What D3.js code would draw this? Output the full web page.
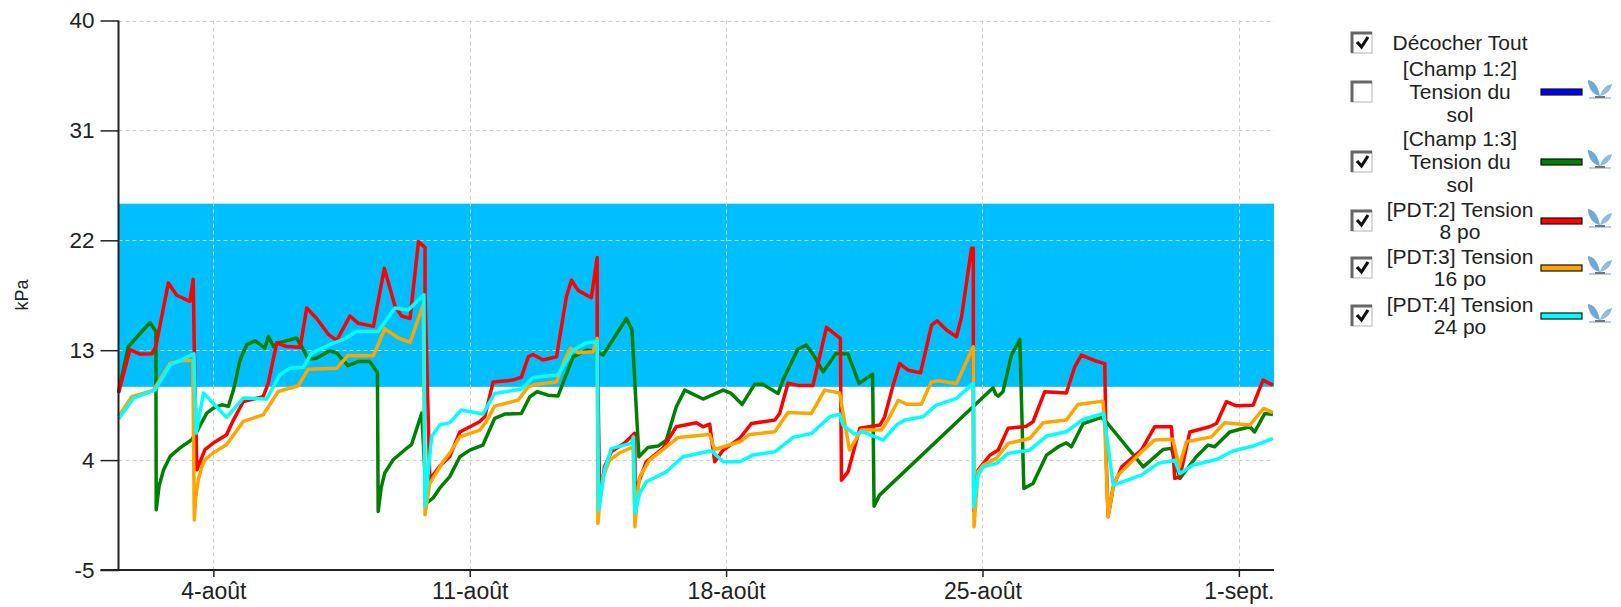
<!DOCTYPE html>
<html><head><meta charset="utf-8">
<script src="https://cdn.jsdelivr.net/npm/d3@7/dist/d3.min.js"></script>
<style>
html,body{margin:0;padding:0;background:#fff}
svg{display:block}
text{font-family:"Liberation Sans",Arial,sans-serif;fill:#222}
</style></head><body><svg id="c" width="1621" height="607"></svg>
<script>
// x values are days counted from 1 August (32 = 1 September)
const xTickDays=[4,11,18,25,32];
const xTickLabels=["4-août","11-août","18-août","25-août","1-sept."];
const yTicks=[-5,4,13,22,31,40];
const band=[10,25];
const xDomain=[1.41,32.96];
const yDomain=[-5,40];
const yLabel="kPa";

const greenDays=[1.41,1.68,2.27,2.43,2.44,2.52,2.64,2.82,3.09,3.41,3.55,3.82,4,4.23,4.41,4.55,4.73,4.91,5.14,5.41,5.5,5.64,5.77,6.27,6.41,6.59,6.82,7.18,7.37,7.68,7.96,8.27,8.48,8.5,8.58,8.68,8.91,9.23,9.41,9.69,9.82,10,10.18,10.45,10.73,11,11.36,11.68,11.96,12.41,12.64,12.84,13.14,13.41,13.82,14.2,14.46,14.64,15.28,15.43,15.62,15.87,16.14,16.37,16.64,16.87,17.37,17.92,18.14,18.44,18.78,19,19.42,19.55,19.96,20.19,20.37,20.65,21,21.33,21.63,22,22.04,22.19,25.29,25.36,25.43,25.56,25.79,26.02,26.13,26.38,26.75,27.07,27.29,27.43,27.75,28.25,28.38,29.39,29.93,30.16,30.39,30.84,31.16,31.34,31.75,32.3,32.43,32.71,32.93];
const greenValues=[9.6,13.3,15.27,14.54,-0.07,1.9,3.2,4.3,5,5.67,6.35,7.85,8.26,8.53,8.4,9.76,12.2,13.45,13.77,13.17,14.13,13.3,13.6,14,13.3,12.27,12.35,12.95,12.76,11.73,12.08,12.08,11.18,-0.2,1.7,2.94,4.03,4.85,5.26,7.85,0.48,0.9,1.7,2.63,4.27,4.82,5.23,7.41,7.77,7.82,9.19,9.6,9.32,9.24,12.46,13,12.9,12.6,15.6,14.65,4.27,5.04,5.15,5.64,8.37,9.73,9,9.73,9.46,8.56,10.22,10.22,9.46,10.55,13.1,13.42,12.68,11.23,12.74,12.68,10.28,11.04,0.23,1.13,9.92,9.4,9.24,9.6,12.6,13.88,1.68,2.09,4.41,5.09,5.42,5.09,7,7.5,7.14,3.45,4.87,4.96,2.5,4.27,5.23,5.09,6.3,6.73,6.3,7.82,7.74];

const redDays=[1.41,1.72,2,2.32,2.43,2.77,3,3.36,3.45,3.48,3.55,3.77,4,4.36,4.55,4.82,5.36,5.5,5.73,6,6.37,6.55,6.82,7.14,7.37,7.73,7.96,8.37,8.67,8.96,9.14,9.37,9.6,9.78,9.78,9.91,10.18,10.45,10.73,11.27,11.41,11.64,12.18,12.41,12.6,12.73,13,13.37,13.64,13.78,13.96,14.32,14.48,14.48,14.55,14.68,14.87,15.23,15.5,15.51,15.52,15.6,15.82,16.27,16.64,17.19,17.37,17.55,17.69,17.92,18.37,18.69,19.33,19.46,19.69,20,20.37,20.74,21.12,21.15,21.33,21.65,22.2,22.33,22.56,22.74,22.97,23.31,23.61,23.76,24.02,24.29,24.43,24.7,24.75,24.75,24.76,24.88,25.2,25.43,25.7,26.2,26.38,26.7,27.29,27.52,27.7,28.07,28.34,28.38,28.43,28.57,28.8,29.34,29.7,30.16,30.25,30.39,30.66,31.2,31.39,31.66,31.93,32.39,32.66,32.93];
const redValues=[9.5,13.04,12.68,12.7,13.3,18.5,17.5,17,18.8,13,3.2,4.85,5.4,6.07,7.3,8.8,9.2,10.3,13.6,13.3,13.25,16.45,15.6,14.3,13.8,15.8,15.2,14.95,19.7,16.6,15.8,15.6,21.9,21.4,17.7,2.4,3.5,4.27,6.3,7.14,7.55,10.4,10.55,10.8,12.46,12.65,12.2,12.46,17.4,18.74,17.9,17.3,20.6,14.4,0.72,3.45,4.7,5.4,6.2,4.5,-0.64,2.1,3.86,4.96,6.73,7.06,6.73,6.95,3.86,4.82,5.77,7,7.28,7.8,10.3,10.1,10.1,14.87,13.96,2.36,3.04,6.6,6.87,7.55,10.14,11.9,11.36,11.15,15.06,15.41,14.65,14.1,15.74,21.34,21.34,13.28,-0.1,3.18,4.4,4.82,6.6,6.78,7.14,9.6,9.5,11.64,12.6,12.14,11.9,4,-0.64,1.8,3.45,4.82,6.73,6.73,2.5,2.63,6.3,6.73,7,8.78,8.45,8.5,10.55,10.14];

const orangeDays=[1.41,1.77,2.36,2.82,3.18,3.44,3.48,3.52,3.59,3.68,3.77,4,4.36,4.82,5.36,5.77,6.32,6.59,7.37,7.68,8.37,8.68,9.05,9.37,9.73,9.78,9.91,10.28,10.45,10.73,11.27,11.45,11.68,12.32,12.6,12.82,13.37,13.59,13.75,13.96,14.37,14.48,14.5,14.56,14.64,14.82,15.1,15.46,15.51,15.57,15.64,15.91,16.37,16.69,17.55,17.69,18.37,18.64,19.33,19.69,20.33,20.69,21.1,21.37,21.69,22.24,22.42,22.7,22.93,23.33,23.6,23.79,24.29,24.75,24.77,24.88,25.02,25.38,25.7,26.29,26.66,27.29,27.61,28.29,28.34,28.43,28.57,28.7,29.3,29.7,30.2,30.37,30.57,31.25,31.61,32.3,32.68,32.93];
const orangeValues=[7.58,9.2,9.7,11.94,12.16,12.16,-0.9,1,2.4,3.4,4.03,4.6,5.26,7.17,7.7,9.62,10.09,11.45,11.53,12.57,12.55,14.76,14,13.64,16.72,-0.48,2.1,3.9,4.55,5.9,6.46,7.14,8.42,8.91,10,10.22,10.4,12.19,13.15,12.8,12.87,13.96,-1.19,0.9,2.63,4,4.6,5.09,-1.46,1,2.63,4,5.09,5.86,6.1,4.87,5.5,6.1,6.32,7.9,7.82,9.73,9.5,4.82,6.46,6.46,7.28,8.9,8.58,8.58,10.4,10.5,10.28,13.28,-1.46,3.04,3.6,4.14,5.37,5.77,7.06,7.28,8.56,8.83,6.73,-0.64,1.8,2.77,4.55,5.64,5.7,3.45,5.5,5.9,7.06,6.87,8.23,7.88];

const cyanDays=[1.41,1.82,2.41,2.82,3.23,3.47,3.53,3.73,4.36,4.82,5.45,5.82,6.09,6.46,6.68,7.28,7.55,7.91,8.5,8.96,9.32,9.75,9.78,9.96,10.19,10.45,10.77,11.36,11.68,12.41,12.73,13.41,13.82,14.18,14.48,14.52,14.68,14.87,15.41,15.47,15.51,15.64,15.82,16.37,16.82,17.6,17.92,18.37,18.73,19.33,19.83,20.33,20.83,21.1,21.19,21.51,21.74,22.29,22.65,22.88,23.38,23.74,24.29,24.75,24.76,24.88,25.02,25.38,25.7,26.29,26.75,27.29,27.75,28.31,28.57,29.34,29.8,30.25,30.39,30.75,31.39,31.84,32.39,32.93];
const cyanValues=[7.36,9.08,9.76,11.8,12.35,12.7,6.2,9.5,7.5,9.08,9,11,11.53,11.6,12.76,13.58,13.86,14.54,14.54,16.45,16.3,17.54,0.26,5.94,6.9,7.05,8.1,7.77,9.46,9.8,10.77,10.96,13,13.6,13.7,-0.1,3.18,4.96,5.37,5.9,-0.37,1.27,2.23,3.04,4.27,4.76,3.86,3.86,4.41,4.68,5.86,6.18,7.55,7.77,6.87,6.13,6.32,5.64,6.87,7.28,7.55,8.5,9.05,10.28,0.18,2.77,3.45,3.73,4.55,4.82,5.97,6.32,7.33,7.82,1.95,2.77,3.73,4,2.9,3.6,4.05,4.74,5.15,5.77];

const seriesColors={green:"#008000",red:"#ff0000",orange:"#ffa500",cyan:"#00ffff"};
const legendLabels=[["Décocher Tout"],["[Champ 1:2]","Tension du","sol"],["[Champ 1:3]","Tension du","sol"],["[PDT:2] Tension","8 po"],["[PDT:3] Tension","16 po"],["[PDT:4] Tension","24 po"]];
const legendChecked=[true,false,true,true,true,true];
const legendColors=[null,"#0000ff","#008000","#ff0000","#ffa500","#00ffff"];
const legendY=[43,92,162,221,268,316];

const svg=d3.select("#c");
const plot={l:118.5,r:1274,t:20.5,b:570};
const x=d3.scaleLinear().domain(xDomain).range([plot.l,plot.r]);
const y=d3.scaleLinear().domain(yDomain).range([plot.b,plot.t]);

svg.append("rect").attr("x",plot.l).attr("width",plot.r-plot.l)
  .attr("y",y(band[1])).attr("height",y(band[0])-y(band[1])).attr("fill","#00bfff");

// grid
const grid=svg.append("g").attr("fill","none").attr("stroke","#cfcfcf").attr("stroke-width",1).attr("stroke-dasharray","4 3");
grid.selectAll("line.h").data(yTicks.slice(1)).join("line").attr("class","h")
  .attr("x1",plot.l).attr("x2",plot.r).attr("y1",d=>Math.round(y(d))+.5).attr("y2",d=>Math.round(y(d))+.5);
grid.selectAll("line.v").data(xTickDays).join("line").attr("class","v")
  .attr("x1",d=>Math.round(x(d))+.5).attr("x2",d=>Math.round(x(d))+.5).attr("y1",plot.t).attr("y2",plot.b);

// series
const line=d3.line().x(d=>x(d[0])).y(d=>y(d[1]));
[[greenDays,greenValues,seriesColors.green],[redDays,redValues,seriesColors.red],[orangeDays,orangeValues,seriesColors.orange],[cyanDays,cyanValues,seriesColors.cyan]]
 .forEach(([dd,vv,c])=>{
  svg.append("path").attr("d",line(d3.zip(dd,vv))).attr("fill","none").attr("stroke",c)
   .attr("stroke-width",3.5).attr("stroke-linejoin","round").attr("stroke-linecap","butt");
 });

// axes
const yAxis=d3.axisLeft(y).tickValues(yTicks).tickSize(18).tickPadding(6).tickFormat(d=>String(d));
const gy=svg.append("g").attr("transform",`translate(${plot.l},0)`).call(yAxis);
const xAxis=d3.axisBottom(x).tickValues(xTickDays).tickSize(7).tickPadding(6).tickFormat((d,i)=>xTickLabels[i]);
const gx=svg.append("g").attr("transform",`translate(0,${plot.b})`).call(xAxis);
[gx,gy].forEach(g=>{
  g.selectAll("path").attr("stroke","#222").attr("stroke-width",2);
  g.selectAll("line").attr("stroke","#222").attr("stroke-width",1.5);
  g.selectAll("text").style("font-family","'Liberation Sans',Arial,sans-serif").attr("fill","#222");
});
gx.selectAll("text").style("font-size","23px");
gy.selectAll("text").style("font-size","22.5px");
gy.select("path").attr("d",`M0,${plot.t}V${plot.b}`);
gx.select("path").attr("d",`M${plot.l-18},0H${plot.r}`);

svg.append("text").attr("transform","translate(28,295) rotate(-90)")
  .attr("text-anchor","middle").style("font-size","18px").text(yLabel);

// legend
const lg=svg.append("g");
legendLabels.forEach((lines,i)=>{
  const cy=legendY[i];
  const g=lg.append("g").attr("transform",`translate(0,${cy})`);
  g.append("rect").attr("x",1352).attr("y",-10).attr("width",20).attr("height",20).attr("fill","#fff").attr("stroke","#ccc").attr("stroke-width",1.5);
  g.append("path").attr("d","M1352,10V-10H1372").attr("fill","none").attr("stroke","#666").attr("stroke-width",3);
  if(legendChecked[i]) g.append("path").attr("d","M1357,-1L1361.5,4L1368,-6").attr("fill","none").attr("stroke","#111").attr("stroke-width",3.2);
  const h=22.6;
  lines.forEach((t,j)=>{
    g.append("text").attr("x",1460).attr("y",(j-(lines.length-1)/2)*h+7).attr("text-anchor","middle").style("font-size","21px").text(t);
  });
  if(legendColors[i]){
    g.append("rect").attr("x",1541).attr("y",-3).attr("width",41).attr("height",6).attr("fill",legendColors[i]).attr("stroke","#111").attr("stroke-width",1.2);
    const ic=g.append("g").attr("transform","translate(1600,0)");
    ic.append("path").attr("d","M0,4C-2,-6,-6,-11,-12,-12C-12,-4,-7,3,0,4Z").attr("fill","#6fa8dc");
    ic.append("path").attr("d","M0,4C2,-3,6,-7,12,-8C11,-2,6,3,0,4Z").attr("fill","#8dbde6");
    ic.append("path").attr("d","M-11,6H11").attr("stroke","#b7cfe2").attr("stroke-width",2);
    ic.append("path").attr("d","M-5,5H5").attr("stroke","#777").attr("stroke-width",2);
  }
});
</script></body></html>
